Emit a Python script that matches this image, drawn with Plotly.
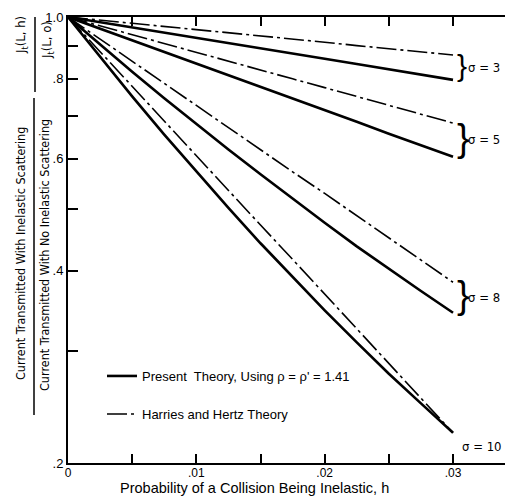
import plotly.graph_objects as go
import math

# ---------------- data ----------------
h = [0, 0.0025, 0.005, 0.0075, 0.01, 0.0125, 0.015, 0.0175, 0.02, 0.0225, 0.025, 0.0275, 0.03]

present_s3 = [1.0, 0.981, 0.963, 0.945, 0.927, 0.910, 0.893, 0.876, 0.860, 0.844, 0.828, 0.812, 0.797]
hh_s3 = [1.0, 0.989, 0.978, 0.966, 0.955, 0.944, 0.934, 0.923, 0.913, 0.902, 0.892, 0.882, 0.872]
present_s5 = [1.0, 0.959, 0.919, 0.881, 0.845, 0.810, 0.777, 0.745, 0.714, 0.685, 0.656, 0.629, 0.604]
hh_s5 = [1.0, 0.969, 0.938, 0.909, 0.880, 0.853, 0.826, 0.800, 0.775, 0.751, 0.727, 0.705, 0.682]
present_s8 = [1.0, 0.905, 0.821, 0.746, 0.680, 0.620, 0.567, 0.519, 0.476, 0.437, 0.403, 0.372, 0.344]
hh_s8 = [1.0, 0.923, 0.853, 0.787, 0.727, 0.671, 0.620, 0.572, 0.529, 0.488, 0.451, 0.416, 0.384]
present_s10 = [1.0, 0.865, 0.751, 0.654, 0.572, 0.502, 0.442, 0.391, 0.347, 0.309, 0.276, 0.248, 0.223]
hh_s10 = [1.0, 0.882, 0.779, 0.687, 0.607, 0.535, 0.472, 0.417, 0.368, 0.325, 0.287, 0.253, 0.223]

sigma_labels = ["σ = 3", "σ = 5", "σ = 8", "σ = 10"]

x_tickvals = [0, 0.01, 0.02, 0.03]
x_ticktext = ["0", ".01", ".02", ".03"]
x_minor = [0.005, 0.015, 0.025]
y_tickvals = [0.2, 0.4, 0.6, 0.8, 1.0]
y_ticktext = [".2", ".4", ".6", ".8", "1.0"]
y_minor = [0.3, 0.5, 0.7, 0.9]

legend_present = "Present  Theory, Using ρ = ρ' = 1.41"
legend_hh = "Harries and Hertz Theory"

# ---------------- styling ----------------
FONT = "Liberation Sans Narrow, DejaVu Sans Condensed, Liberation Sans, Arial, sans-serif"
FONT_W = "Liberation Sans, Arial, sans-serif"
W, H = 505, 497
ML, MR, MT, MB = 68, 0, 17, 34
DASHDOT = "20px,4px,3px,4px"


def px_to_paper_x(px):
    return (px - ML) / (W - ML - MR)


def py_to_paper_y(py):
    return (H - MB - py) / (H - MT - MB)


fig = go.Figure()

present = [present_s3, present_s5, present_s8, present_s10]
hh = [hh_s3, hh_s5, hh_s8, hh_s10]

for i, ys in enumerate(hh):
    fig.add_trace(go.Scatter(
        x=h, y=ys, mode="lines", name=legend_hh,
        line=dict(color="black", width=1.6, dash=DASHDOT),
        showlegend=(i == 0), legend="legend2"))
for i, ys in enumerate(present):
    fig.add_trace(go.Scatter(
        x=h, y=ys, mode="lines", name=legend_present,
        line=dict(color="black", width=2.6),
        showlegend=(i == 0), legend="legend"))

annotations = []
# braces and sigma labels
brace_sizes = [30, 38, 38]
for i in range(3):
    top = hh[i][-1]
    bot = present[i][-1]
    mid = math.sqrt(top * bot)
    annotations.append(dict(
        x=h[-1], y=math.log10(mid), xref="x", yref="y", text="}",
        showarrow=False, xanchor="left", yanchor="middle", xshift=2, yshift=2,
        font=dict(family=FONT_W, size=brace_sizes[i], color="black")))
    annotations.append(dict(
        x=h[-1], y=math.log10(mid), xref="x", yref="y", text=sigma_labels[i],
        showarrow=False, xanchor="left", yanchor="middle", xshift=13,
        font=dict(family=FONT, size=13, color="black")))
annotations.append(dict(
    x=1.0, y=math.log10(present_s10[-1]), xref="paper", yref="y", text=sigma_labels[3],
    showarrow=False, xanchor="right", yanchor="middle", xshift=-1, yshift=-14,
    font=dict(family=FONT, size=13, color="black")))

# x axis title
annotations.append(dict(
    x=px_to_paper_x(254), y=py_to_paper_y(498), xref="paper", yref="paper",
    text="Probability of a Collision Being Inelastic, h", showarrow=False,
    xanchor="center", yanchor="bottom", font=dict(family=FONT_W, size=14.5, color="black")))

# y axis titles (rotated)
annotations.append(dict(
    x=px_to_paper_x(20), y=py_to_paper_y(254), xref="paper", yref="paper",
    text="Current Transmitted With Inelastic Scattering", textangle=-90, showarrow=False,
    xanchor="center", yanchor="middle", font=dict(family=FONT, size=12.5, color="black")))
annotations.append(dict(
    x=px_to_paper_x(44), y=py_to_paper_y(255), xref="paper", yref="paper",
    text="Current Transmitted With No Inelastic Scattering", textangle=-90, showarrow=False,
    xanchor="center", yanchor="middle", font=dict(family=FONT, size=12.5, color="black")))
annotations.append(dict(
    x=px_to_paper_x(21), y=py_to_paper_y(35), xref="paper", yref="paper",
    text="J<sub>t</sub>(L, h)", textangle=-90, showarrow=False,
    xanchor="center", yanchor="middle", font=dict(family=FONT, size=13, color="black")))
annotations.append(dict(
    x=px_to_paper_x(47), y=py_to_paper_y(40), xref="paper", yref="paper",
    text="J<sub>t</sub>(L, o)", textangle=-90, showarrow=False,
    xanchor="center", yanchor="middle", font=dict(family=FONT, size=13, color="black")))

shapes = [
    dict(type="line", xref="paper", yref="paper",
         x0=px_to_paper_x(35), x1=px_to_paper_x(35), y0=py_to_paper_y(17), y1=py_to_paper_y(92),
         line=dict(color="black", width=1.5)),
    dict(type="line", xref="paper", yref="paper",
         x0=px_to_paper_x(34), x1=px_to_paper_x(34), y0=py_to_paper_y(98), y1=py_to_paper_y(415),
         line=dict(color="black", width=1.5)),
]

fig.update_layout(
    width=W, height=H,
    margin=dict(l=ML, r=MR, t=MT, b=MB, pad=0),
    paper_bgcolor="white", plot_bgcolor="white",
    font=dict(family=FONT, size=13, color="black"),
    showlegend=True,
    legend=dict(x=px_to_paper_x(102), y=py_to_paper_y(361), xanchor="left", yanchor="top",
                bgcolor="rgba(0,0,0,0)", font=dict(family=FONT_W, size=13)),
    legend2=dict(x=px_to_paper_x(102), y=py_to_paper_y(399), xanchor="left", yanchor="top",
                 bgcolor="rgba(0,0,0,0)", font=dict(family=FONT_W, size=13)),
    xaxis=dict(range=[0, 0.03405], tickvals=x_tickvals, ticktext=x_ticktext,
               ticks="inside", ticklen=9, tickwidth=1.5, tickcolor="black",
               minor=dict(tickvals=x_minor, ticks="inside", ticklen=9, tickwidth=1.5,
                          tickcolor="black", showgrid=False),
               showline=True, linecolor="black", linewidth=2, mirror="ticks",
               showgrid=False, zeroline=False, ticklabelstandoff=-2,
               tickfont=dict(family=FONT_W, size=12)),
    yaxis=dict(type="log", range=[math.log10(0.2), 0], tickvals=y_tickvals, ticktext=y_ticktext,
               ticks="inside", ticklen=10, tickwidth=1.5, tickcolor="black",
               minor=dict(tickvals=y_minor, ticks="inside", ticklen=10, tickwidth=1.5,
                          tickcolor="black", showgrid=False),
               showline=True, linecolor="black", linewidth=2, mirror=False,
               showgrid=False, zeroline=False,
               tickfont=dict(family=FONT_W, size=13)),
    annotations=annotations,
    shapes=shapes,
)

fig.write_html("out.html")
